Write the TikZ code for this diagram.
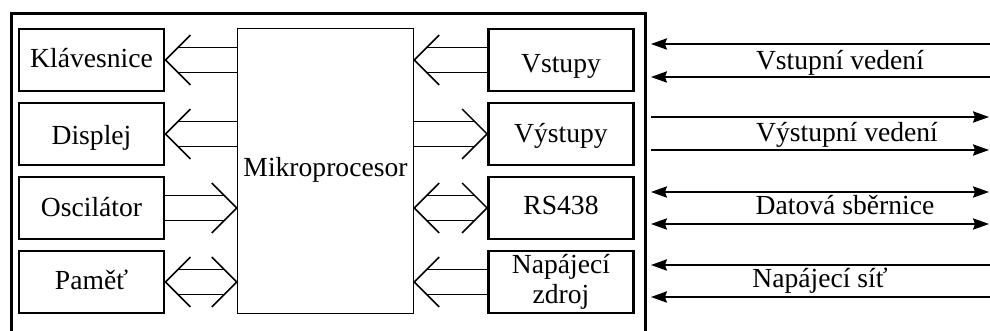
\documentclass[tikz,border=0pt]{standalone}
\usepackage{fontspec}
\setmainfont{Liberation Serif}
\usetikzlibrary{calc,arrows.meta}
\tikzset{
  txt/.style={font=\fontsize{20.7}{22.5}\selectfont},
  box/.style={draw, line width=2.2pt, minimum width={145*0.75pt}, minimum height={62*0.75pt}, inner sep=0pt, align=center, txt, text height=14pt, text depth=2pt},
  cpu/.style={draw, line width=1.1pt, minimum width={176*0.75pt}, minimum height={285*0.75pt}, inner sep=0pt, txt, text height=11pt, text depth=2pt},
  busline/.style={line width=1.1pt},
  sigline/.style={line width=1.1pt},
  >={Stealth[length=12pt,width=8.5pt,inset=1.5pt]},
  lbl/.style={anchor=base, inner sep=0pt, txt},
  frame/.style={line width=2.6pt}
}
% #1 left point, #2 right point, #3 head at left (1/0), #4 head at right (1/0)
\newcommand{\bus}[4]{%
  \draw[busline] ($(#1)+({#3*12.5},-12.5)$) -- ($(#2)+({-#4*12.5},-12.5)$);
  \draw[busline] ($(#1)+({#3*12.5},12.5)$) -- ($(#2)+({-#4*12.5},12.5)$);
  \ifnum#3=1 \draw[busline] ($(#1)+(25,-25)$) -- (#1) -- ($(#1)+(25,25)$);\fi
  \ifnum#4=1 \draw[busline] ($(#2)+(-25,-25)$) -- (#2) -- ($(#2)+(-25,25)$);\fi
}
\begin{document}
\begin{tikzpicture}[x=0.75pt,y=-0.75pt]
\useasboundingbox (0,0) rectangle (990,331);
\clip (0,0) rectangle (990,331);
\fill[white] (0,0) rectangle (990,331);
% outer frame
\draw[frame] (11.5,345) -- (11.5,13.5) -- (645.5,13.5) -- (645.5,345);
% left boxes
\node[box] (kl) at (91.5,60) {Klávesnice};
\node[box, text height=17pt, text depth=0.5pt] (di) at (91.5,134) {Displej};
\node[box, text height=15pt, text depth=1.5pt] (os) at (91.5,208) {Oscilátor};
\node[box] (pa) at (91.5,282) {Paměť};
% microprocessor
\node[cpu] (mik) at (325.5,170.8) {Mikroprocesor};
% right boxes
\node[box, text height=20pt, text depth=0.5pt] (vs) at (561,60) {Vstupy};
\node[box, text height=15pt, text depth=1.5pt] (vy) at (561,134) {Výstupy};
\node[box, text height=12.5pt, text depth=2pt] (rs) at (561,208) {RS438};
\node[box, text height=, text depth=] (nz) at (561,282) {Napájecí\\zdroj};
% junction points on the microprocessor
\coordinate (mkl) at (mik.west |- kl.east);
\coordinate (mdi) at (mik.west |- di.east);
\coordinate (mos) at (mik.west |- os.east);
\coordinate (mpa) at (mik.west |- pa.east);
\coordinate (mvs) at (mik.east |- vs.west);
\coordinate (mvy) at (mik.east |- vy.west);
\coordinate (mrs) at (mik.east |- rs.west);
\coordinate (mnz) at (mik.east |- nz.west);
% buses
\bus{kl.east}{mkl}{1}{0}
\bus{di.east}{mdi}{1}{0}
\bus{os.east}{mos}{0}{1}
\bus{pa.east}{mpa}{1}{1}
\bus{mvs}{vs.west}{1}{0}
\bus{mvy}{vy.west}{0}{1}
\bus{mrs}{rs.west}{1}{1}
\bus{mnz}{nz.west}{1}{0}
% external lines
\coordinate (a1) at (651,44);  \coordinate (b1) at (995,44);
\coordinate (a2) at (651,77);  \coordinate (b2) at (995,77);
\coordinate (a3) at (651,117); \coordinate (b3) at (989,117);
\coordinate (a4) at (651,150); \coordinate (b4) at (989,150);
\coordinate (a5) at (651,192); \coordinate (b5) at (989,192);
\coordinate (a6) at (651,224); \coordinate (b6) at (989,224);
\coordinate (a7) at (651,265); \coordinate (b7) at (995,265);
\coordinate (a8) at (651,297); \coordinate (b8) at (995,297);
\draw[sigline,<-] (a1) -- (b1);
\draw[sigline,<-] (a2) -- (b2);
\draw[sigline,->] (a3) -- (b3);
\draw[sigline,->] (a4) -- (b4);
\draw[sigline,<->] (a5) -- (b5);
\draw[sigline,<->] (a6) -- (b6);
\draw[sigline,<-] (a7) -- (b7);
\draw[sigline,<-] (a8) -- (b8);
\node[lbl] (l1) at (840,70) {Vstupní vedení};
\node[lbl] (l2) at (847,142) {Výstupní vedení};
\node[lbl] (l3) at (845,215) {Datová sběrnice};
\node[lbl] (l4) at (820,288) {Napájecí síť};
\end{tikzpicture}
\end{document}
